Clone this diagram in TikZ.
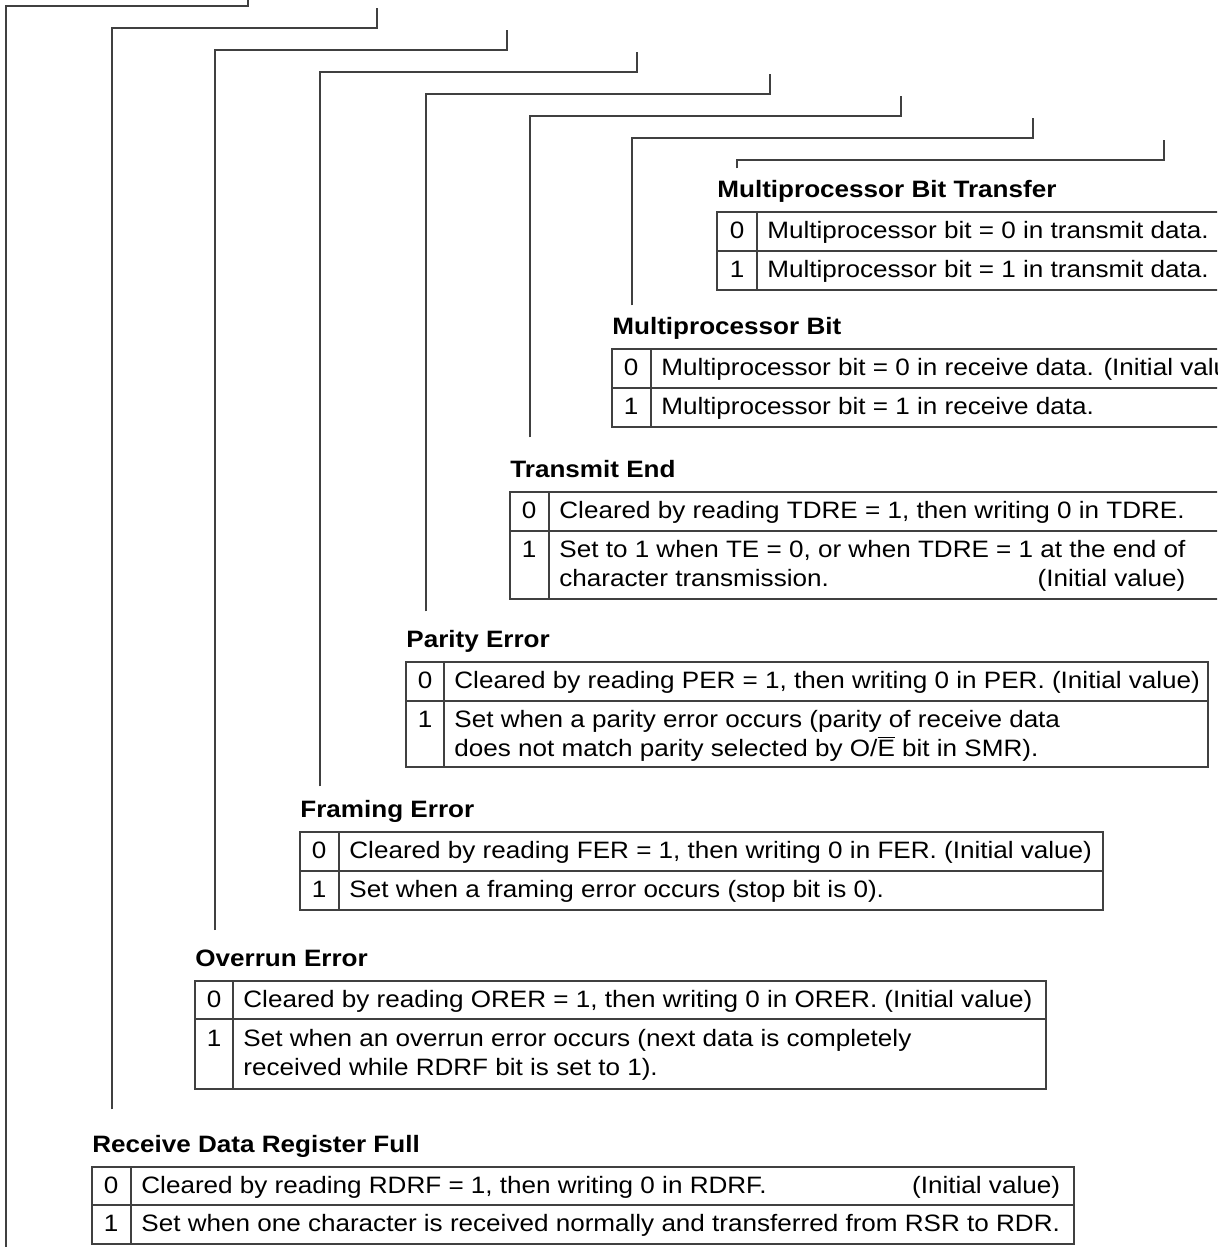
\documentclass[tikz,border=0pt]{standalone}
\usepackage{fontspec}
\setmainfont{Liberation Sans}[FakeStretch=1.1]
\usetikzlibrary{calc}
\newcommand{\initval}{(Initial value)}

\begin{document}
\begin{tikzpicture}[x=0.5pt, y=0.5pt, font=\fontsize{11.85}{14}\selectfont,
  lead/.style={draw=black!75, line width=0.65pt},
  rule/.style={draw=black!75, line width=0.65pt},
  ttl/.style={anchor=base west, inner sep=0pt, font=\fontsize{11.85}{14}\selectfont\bfseries},
  bit/.style={anchor=base, inner sep=0pt},
  txt/.style={anchor=base west, inner sep=0pt}]
\useasboundingbox (0,0) rectangle (1217,-1247);
\clip (0,0) rectangle (1217,-1247);

% Multiprocessor Bit Transfer
\node[ttl] (mpbtT) at (717,-197) {Multiprocessor Bit Transfer};
\draw[rule] (717,-212) rectangle (1240,-290) (717,-251) -- (1240,-251) (757,-212) -- (757,-290);
\node[bit] (mpbt0b) at (737,-238) {0};
\node[txt] (mpbt0) at (767,-238) {Multiprocessor bit = 0 in transmit data.};
\node[bit] (mpbt1b) at (737,-277) {1};
\node[txt] (mpbt1) at (767,-277) {Multiprocessor bit = 1 in transmit data.};

% Multiprocessor Bit
\node[ttl] (mpbT) at (612,-334) {Multiprocessor Bit};
\draw[rule] (612,-349) rectangle (1240,-427) (612,-388) -- (1240,-388) (651,-349) -- (651,-427);
\node[bit] (mpb0b) at (631,-375) {0};
\node[txt] (mpb0) at (661,-375) {Multiprocessor bit = 0 in receive data. \initval};
\node[bit] (mpb1b) at (631,-414) {1};
\node[txt] (mpb1) at (661,-414) {Multiprocessor bit = 1 in receive data.};

% Transmit End
\node[ttl] (tendT) at (510,-477) {Transmit End};
\draw[rule] (510,-492) rectangle (1240,-599) (510,-531) -- (1240,-531) (549,-492) -- (549,-599);
\node[bit] (tend0b) at (529,-518) {0};
\node[txt] (tend0) at (559,-518) {Cleared by reading TDRE = 1, then writing 0 in TDRE.};
\node[bit] (tend1b) at (529,-557) {1};
\node[txt] (tend1) at (559,-557) {Set to 1 when TE = 0, or when TDRE = 1 at the end of};
\node[txt] (tend2) at (559,-586) {character transmission.};
\node[txt, anchor=base east] (tendI) at ($(tend1.base east)+(0,-29)$) {\initval};

% Parity Error
\node[ttl] (parT) at (406,-647) {Parity Error};
\draw[rule] (406,-662) rectangle (1208,-767) (406,-701) -- (1208,-701) (444,-662) -- (444,-767);
\node[bit] (par0b) at (425,-688) {0};
\node[txt] (par0) at (454,-688) {Cleared by reading PER = 1, then writing 0 in PER. \initval};
\node[bit] (par1b) at (425,-727) {1};
\node[txt] (par1) at (454,-727) {Set when a parity error occurs (parity of receive data};
\node[txt] (par2) at (454,-756) {does not match parity selected by O/$\overline{\mbox{E}}$ bit in SMR).};

% Framing Error
\node[ttl] (frmT) at (300,-817) {Framing Error};
\draw[rule] (300,-832) rectangle (1103,-910) (300,-871) -- (1103,-871) (339,-832) -- (339,-910);
\node[bit] (frm0b) at (319,-858) {0};
\node[txt] (frm0) at (349,-858) {Cleared by reading FER = 1, then writing 0 in FER. \initval};
\node[bit] (frm1b) at (319,-897) {1};
\node[txt] (frm1) at (349,-897) {Set when a framing error occurs (stop bit is 0).};

% Overrun Error
\node[ttl] (ovrT) at (195,-966) {Overrun Error};
\draw[rule] (195,-981) rectangle (1046,-1089) (195,-1019) -- (1046,-1019) (233,-981) -- (233,-1089);
\node[bit] (ovr0b) at (214,-1007) {0};
\node[txt] (ovr0) at (243,-1007) {Cleared by reading ORER = 1, then writing 0 in ORER. \initval};
\node[bit] (ovr1b) at (214,-1046) {1};
\node[txt] (ovr1) at (243,-1046) {Set when an overrun error occurs (next data is completely};
\node[txt] (ovr2) at (243,-1075) {received while RDRF bit is set to 1).};

% Receive Data Register Full
\node[ttl] (rdrfT) at (92,-1152) {Receive Data Register Full};
\draw[rule] (92,-1167) rectangle (1074,-1244) (92,-1205) -- (1074,-1205) (131,-1167) -- (131,-1244);
\node[bit] (rdrf0b) at (111,-1193) {0};
\node[txt] (rdrf0) at (141,-1193) {Cleared by reading RDRF = 1, then writing 0 in RDRF.};
\node[bit] (rdrf1b) at (111,-1231) {1};
\node[txt] (rdrf1) at (141,-1231) {Set when one character is received normally and transferred from RSR to RDR.};
\node[txt, anchor=base east] (rdrfI) at (rdrf1.base east |- rdrf0.base) {\initval};

% leader lines from the bits
\coordinate (a0) at (6,-1260);
\coordinate (c0) at (248,-6);
\coordinate (c1) at (377,-28);
\coordinate (c2) at (507,-50);
\coordinate (c3) at (637,-72);
\coordinate (c4) at (770,-94);
\coordinate (c5) at (901,-116);
\coordinate (c6) at (1033,-138);
\coordinate (c7) at (1164,-160);
\draw[lead] (a0) |- (c0) -- ++(0,20);
\foreach \ttl/\gap/\crn in {rdrfT/25/c1, ovrT/19/c2, frmT/13/c3, parT/18/c4,
  tendT/22/c5, mpbT/11/c6, mpbtT/11/c7}
  \draw[lead] ([shift={(20,\gap)}]\ttl.north west) |- (\crn) -- ++(0,20);
\end{tikzpicture}
\end{document}
